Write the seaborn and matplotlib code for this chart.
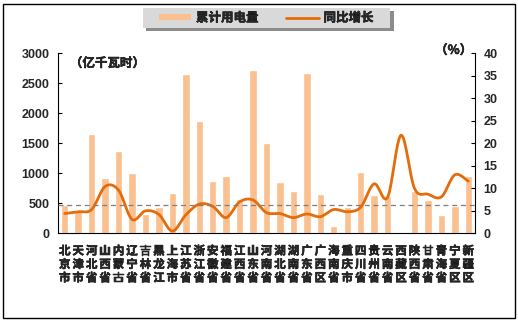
import numpy as np
import pandas as pd
import matplotlib
matplotlib.use("Agg")
import matplotlib.pyplot as plt
import matplotlib.patheffects as pe
from matplotlib.patches import Patch, Rectangle
from matplotlib.lines import Line2D
import seaborn as sns

provinces = ["北京市", "天津市", "河北省", "山西省", "内蒙古", "辽宁省", "吉林省", "黑龙江",
             "上海市", "江苏省", "浙江省", "安徽省", "福建省", "江西省", "山东省", "河南省",
             "湖北省", "湖南省", "广东省", "广西区", "海南省", "重庆市", "四川省", "贵州省",
             "云南省", "西藏区", "陕西省", "甘肃省", "青海省", "宁夏区", "新疆区"]
usage = [480, 390, 1650, 920, 1380, 1000, 330, 440, 680, 2650, 1870, 880, 950, 580, 2720,
         1510, 850, 710, 2670, 650, 130, 440, 1030, 640, 630, 10, 700, 550, 310, 460, 960]
growth = [4.4, 4.8, 5.3, 10.4, 9.6, 3.1, 5.0, 4.2, 0.5, 4.1, 6.5, 6.0, 3.5, 7.0, 7.4, 4.6,
          4.4, 3.5, 4.3, 3.7, 5.3, 4.8, 5.8, 11.0, 8.0, 21.8, 10.0, 8.7, 8.1, 13.0, 11.6]
national_growth = 6.2
left_ticks = [0, 500, 1000, 1500, 2000, 2500, 3000]
right_ticks = [0, 5, 10, 15, 20, 25, 30, 35, 40]

sns.set_theme(style="white")
plt.rcParams['font.family'] = ['Noto Sans CJK SC', 'DejaVu Sans']

bar_color = "#FAC090"
line_color = "#E46C0A"
bold_fx = [pe.withStroke(linewidth=0.35, foreground="black")]

fig = plt.figure(figsize=(5.18, 3.25), dpi=100)
ax = fig.add_axes([0.112, 0.282, 0.805, 0.554])

df = pd.DataFrame({"省份": provinces, "用电量": usage, "增长": growth})
sns.barplot(data=df, x="省份", y="用电量", color=bar_color, saturation=1, width=0.55, ax=ax)
ax.set_ylim(0, 3000)
ax.set_xlim(-0.5, len(provinces) - 0.5)
ax.set_yticks(left_ticks)
ax.set_yticklabels([str(t) for t in left_ticks], family="Liberation Sans", fontweight="bold", fontsize=9)
ax.set_xticks(range(len(provinces)))
ax.set_xticklabels(["\n".join(p) for p in provinces], fontsize=8.3, fontweight="bold",
                   linespacing=1.05)
for lbl in ax.get_xticklabels():
    lbl.set_path_effects(bold_fx)
ax.set_xlabel("")
ax.set_ylabel("")
ax.tick_params(axis="y", direction="in", length=3, width=0.8, color="black", pad=6, left=True)
ax.tick_params(axis="x", length=0, pad=8)
for s in ["top", "right"]:
    ax.spines[s].set_visible(False)
for s in ["left", "bottom"]:
    ax.spines[s].set_color("black")
    ax.spines[s].set_linewidth(0.8)

ax2 = ax.twinx()
# smooth (Catmull-Rom) rendering through the data points
xs = np.arange(len(growth), dtype=float)
ys = np.array(growth, dtype=float)
px = np.concatenate([[xs[0]], xs, [xs[-1]]])
py = np.concatenate([[ys[0]], ys, [ys[-1]]])
cx, cy = [], []
t = np.linspace(0, 1, 20)
for i in range(1, len(px) - 2):
    p0, p1, p2, p3 = py[i - 1], py[i], py[i + 1], py[i + 2]
    x0, x1, x2, x3 = px[i - 1], px[i], px[i + 1], px[i + 2]
    m1y, m2y = (p2 - p0) / 2, (p3 - p1) / 2
    m1x, m2x = (x2 - x0) / 2, (x3 - x1) / 2
    h00 = 2 * t**3 - 3 * t**2 + 1
    h10 = t**3 - 2 * t**2 + t
    h01 = -2 * t**3 + 3 * t**2
    h11 = t**3 - t**2
    cx.extend(h00 * x1 + h10 * m1x + h01 * x2 + h11 * m2x)
    cy.extend(h00 * p1 + h10 * m1y + h01 * p2 + h11 * m2y)
ax2.plot(cx, cy, color=line_color, lw=2)
ax2.axhline(national_growth, color="#7F7F7F", lw=0.9, ls=(0, (4, 3)))
ax2.set_ylim(0, 40)
ax2.set_yticks(right_ticks)
ax2.set_yticklabels([str(t) for t in right_ticks], family="Liberation Sans", fontweight="bold", fontsize=9)
ax2.tick_params(axis="y", direction="in", length=3, width=0.8, color="black", pad=6, right=True)
for s in ["top", "left", "bottom"]:
    ax2.spines[s].set_visible(False)
ax2.spines["right"].set_color("black")
ax2.spines["right"].set_linewidth(0.8)
ax2.grid(False)
ax.grid(False)

fig.text(0.135, 0.805, "（亿千瓦时）", fontsize=9, fontweight="bold", ha="left", va="center",
         path_effects=bold_fx)
fig.text(0.84, 0.845, "（%）", fontsize=9, fontweight="bold", ha="left", va="center",
         path_effects=bold_fx)

# legend box with shadow
fig.patches.append(Rectangle((146 / 518, 1 - 31 / 325), 248 / 518, 20 / 325, transform=fig.transFigure,
                             facecolor="#8C8C8C", edgecolor="none", zorder=1))
fig.patches.append(Rectangle((143 / 518, 1 - 28 / 325), 247 / 518, 20 / 325, transform=fig.transFigure,
                             facecolor="#D9D9D9", edgecolor="none", zorder=2))
handles = [Patch(facecolor=bar_color, edgecolor="none"),
           Line2D([0], [0], color=line_color, lw=2)]
leg = fig.legend(handles, ["累计用电量", "同比增长"], loc="center", bbox_to_anchor=(266 / 518, 1 - 18 / 325),
                 ncol=2, frameon=False, prop={"weight": "bold", "size": 9}, handlelength=2.6,
                 handleheight=0.4, columnspacing=2.2, handletextpad=0.4)
leg.set_zorder(3)
for txt in leg.get_texts():
    txt.set_path_effects(bold_fx)

# outer border
fig.patches.append(Rectangle((3 / 518, 1 - 318 / 325), 512 / 518, 314 / 325, transform=fig.transFigure,
                             facecolor="none", edgecolor="black", lw=1, zorder=0))

fig.savefig("out.png", dpi=100)
